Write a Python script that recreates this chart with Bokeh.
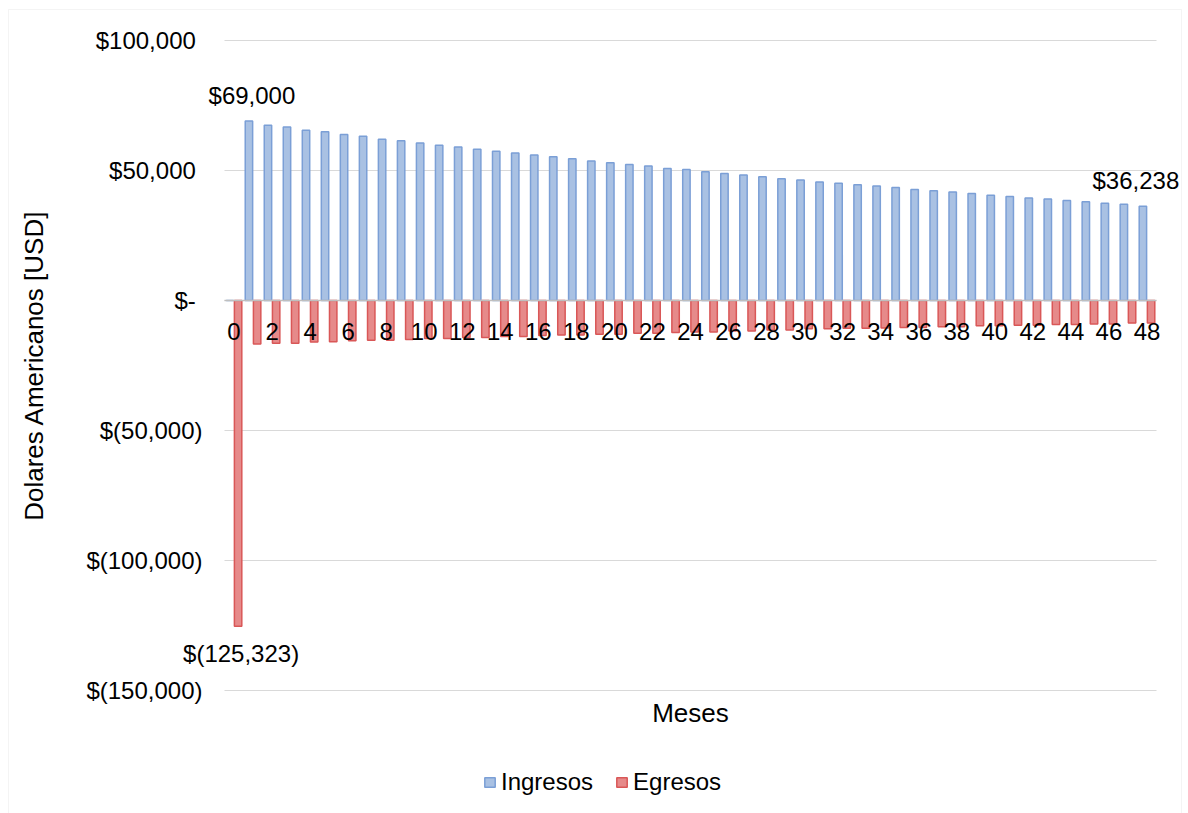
from bokeh.plotting import figure
from bokeh.models import (ColumnDataSource, Range1d, FixedTicker, LinearAxis,
                          Legend, LegendItem, BoxAnnotation)
from bokeh.transform import dodge
from bokeh.core.properties import value
from bokeh.embed import file_html
from bokeh.resources import INLINE

# Monthly cash flows (USD)
months = list(range(49))
ingresos = [0, 69000, 67400, 66700, 65500, 64900, 63800, 63200, 62000, 61400,
            60600, 59700, 59000, 58200, 57400, 56700, 56000, 55300, 54500, 53700,
            53000, 52300, 51700, 50800, 50400, 49500, 48800, 48300, 47600, 46800,
            46300, 45600, 45100, 44500, 44000, 43500, 42700, 42200, 41700, 41200,
            40500, 40000, 39400, 39000, 38500, 38000, 37400, 37000, 36238]
egresos = [-125323, -16700, -16400, -16400, -16000, -15900, -15500, -15300, -15300, -15000,
           -14600, -14600, -14200, -14200, -13800, -13800, -13500, -13300, -13300, -13000,
           -13000, -12600, -12600, -12300, -12100, -12100, -11700, -11700, -11300, -11300,
           -10900, -10900, -10700, -10700, -10600, -10400, -10400, -10100, -10100, -9700,
           -9700, -9500, -9500, -9200, -9200, -9000, -9000, -8700, -8700]

y_ticks = [-150000, -100000, -50000, 0, 50000, 100000]
x_ticks = months[::2]

# months whose values get a data label
label_ing_months = [1, 48]
label_egr_months = [0]

FONT = "Liberation Sans"
BLUE_FILL, BLUE_LINE = "#a9c1e3", "#7b9fd6"
RED_FILL, RED_LINE = "#e68a8a", "#d95757"
OFF, BAR_W = 0.215, 0.39

# canvas and plot-area geometry (pixels)
W, H = 1188, 813
PA_LEFT, PA_RIGHT, PA_TOP, PA_BOTTOM = 224, 1156, 40, 690


def money(v):
    if v == 0:
        return "$-"
    if v < 0:
        return f"$({abs(v):,.0f})"
    return f"${v:,.0f}"


# The frame covers the whole canvas so that labels and legend can sit
# outside the plot area; ranges are widened so the plot area lands on
# PA_LEFT..PA_RIGHT / PA_TOP..PA_BOTTOM.
x_lo, x_hi = months[0] - 0.5, months[-1] + 0.5
y_lo, y_hi = min(y_ticks), max(y_ticks)
px_x = (PA_RIGHT - PA_LEFT) / (x_hi - x_lo)
px_y = (PA_BOTTOM - PA_TOP) / (y_hi - y_lo)
x_range = Range1d(x_lo - PA_LEFT / px_x, x_hi + (W - PA_RIGHT) / px_x)
y_range = Range1d(y_lo - (H - PA_BOTTOM) / px_y, y_hi + PA_TOP / px_y)

src = ColumnDataSource(dict(mes=months, ingresos=ingresos, egresos=egresos))

p = figure(width=W, height=H, output_backend="svg", toolbar_location=None,
           x_range=x_range, y_range=y_range,
           x_axis_location=None, y_axis_location=None,
           min_border=0)
p.outline_line_color = None
p.background_fill_color = "white"
p.border_fill_color = "white"
p.grid.visible = False

# outer chart border
p.add_layout(BoxAnnotation(left=8, right=1181, top=9, bottom=830,
                           left_units="canvas", right_units="canvas",
                           top_units="canvas", bottom_units="canvas",
                           fill_alpha=0, line_color="#d9d9d9", line_width=1,
                           level="underlay"))

# horizontal gridlines across the plot area
grid_src = ColumnDataSource(dict(y=y_ticks))
p.segment(x0=x_lo, x1=x_hi, y0="y", y1="y", source=grid_src,
          line_color="#d9d9d9", line_width=1, level="underlay")

# bars
r_ing = p.vbar(x=dodge("mes", -OFF), top="ingresos", bottom=0, width=BAR_W, source=src,
               fill_color=BLUE_FILL, line_color=BLUE_LINE, line_width=1.5)
r_egr = p.vbar(x=dodge("mes", OFF), top="egresos", bottom=0, width=BAR_W, source=src,
               fill_color=RED_FILL, line_color=RED_LINE, line_width=1.5)

# y axis at the left edge of the plot area
yax = LinearAxis(ticker=FixedTicker(ticks=y_ticks), fixed_location=x_lo,
                 bounds=(y_lo, y_hi),
                 axis_line_color=None, major_tick_line_color=None,
                 minor_tick_line_color=None, major_label_standoff=16,
                 major_label_overrides={t: money(t) + ("" if t < 0 else "\u00a0")
                                        for t in y_ticks},
                 major_label_text_font=FONT, major_label_text_font_size="24px",
                 major_label_text_color="black",
                 axis_label="Dolares Americanos [USD]", axis_label_standoff=34,
                 axis_label_text_font=FONT, axis_label_text_font_size="26px",
                 axis_label_text_font_style="normal", axis_label_text_color="black")
p.add_layout(yax, "left")

# category axis sitting on the zero line
xax = LinearAxis(ticker=FixedTicker(ticks=x_ticks), fixed_location=0, bounds=(x_lo, x_hi),
                 axis_line_color="#bfbfbf", axis_line_width=1.5,
                 major_tick_line_color=None, minor_tick_line_color=None,
                 major_label_standoff=16, major_label_text_font=FONT,
                 major_label_text_font_size="24px", major_label_text_color="black")
p.add_layout(xax, "below")

# x axis title under the plot area
tax = LinearAxis(ticker=FixedTicker(ticks=[]), fixed_location=y_lo, bounds=(x_lo, x_hi),
                 axis_line_color=None, major_tick_line_color=None,
                 minor_tick_line_color=None, major_label_text_font_size="0px",
                 axis_label="Meses", axis_label_standoff=7,
                 axis_label_text_font=FONT, axis_label_text_font_size="26px",
                 axis_label_text_font_style="normal", axis_label_text_color="black")
p.add_layout(tax, "below")

# data labels
ing_lab = ColumnDataSource(dict(
    mes=label_ing_months,
    valor=[ingresos[m] for m in label_ing_months],
    texto=[money(ingresos[m]) for m in label_ing_months],
    dx=[3, -7]))
p.text(x=dodge("mes", -OFF), y="valor", text="texto", x_offset="dx", y_offset=-12,
       source=ing_lab, text_align="center", text_baseline="bottom",
       text_font=value(FONT), text_font_size="24px", text_color="black")

egr_lab = ColumnDataSource(dict(
    mes=label_egr_months,
    valor=[egresos[m] for m in label_egr_months],
    texto=[money(egresos[m]) for m in label_egr_months],
    dx=[3]))
p.text(x=dodge("mes", OFF), y="valor", text="texto", x_offset="dx", y_offset=14,
       source=egr_lab, text_align="center", text_baseline="top",
       text_font=value(FONT), text_font_size="24px", text_color="black")

legend = Legend(items=[LegendItem(label="Ingresos", renderers=[r_ing]),
                       LegendItem(label="Egresos", renderers=[r_egr])],
                orientation="horizontal", location=(483, 17),
                glyph_width=13, glyph_height=12, label_standoff=5, spacing=22,
                padding=0, margin=0, border_line_color=None, background_fill_alpha=0,
                label_text_font=FONT, label_text_font_size="24px",
                label_text_color="black")
p.add_layout(legend)

open("out.html", "w").write(file_html(p, INLINE))
